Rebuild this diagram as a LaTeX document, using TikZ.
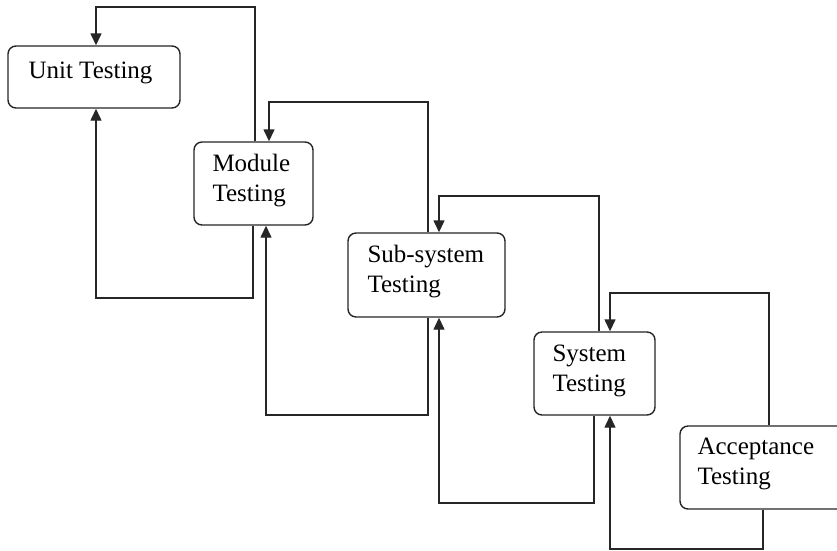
\documentclass[tikz,border=0pt]{standalone}
\usepackage{fontspec}
\setmainfont{Liberation Serif}
\usetikzlibrary{arrows.meta}
\begin{document}
\begin{tikzpicture}[x=1pt,y=1pt,
  stage/.style={draw=black!85, line width=1.4pt, rounded corners=8pt, minimum width=#1, inner sep=0pt},
  stagetext/.style={anchor=base west, inner sep=0pt, align=left, font=\fontsize{25}{30}\selectfont},
  link/.style={draw=black!85, line width=1.4pt},
  back/.style={link, -{Triangle[length=12pt,width=11pt]}}
]
\useasboundingbox (0,0) rectangle (837,-550);
\clip (0,0) rectangle (837,-550);
\fill[white] (0,0) rectangle (837,-550);

% stages
\node[stage=172pt, minimum height=62pt] (u) at (94,-77) {};
\node[stage=119pt, minimum height=83pt] (m) at (253.5,-183.5) {};
\node[stage=157pt, minimum height=84pt] (s) at (426.5,-275) {};
\node[stage=121pt, minimum height=83pt] (y) at (594.5,-373.5) {};
\node[stage=176pt, minimum height=83pt] (a) at (768,-467.5) {};

% stage labels (base anchor sits on the last line)
\node[stagetext] (ut) at ([shift={(21,-33)}]u.north west) {Unit Testing};
\node[stagetext] (mt) at ([shift={(19,-60)}]m.north west) {Module\\Testing};
\node[stagetext] (st) at ([shift={(20,-60)}]s.north west) {Sub-system\\Testing};
\node[stagetext] (yt) at ([shift={(19,-60)}]y.north west) {System\\Testing};
\node[stagetext] (at) at ([shift={(18,-59)}]a.north west) {Acceptance\\Testing};

% feedback loops over the tops
\draw[back] (m.north -| 255,0) |- (96,-7) -- (u.north -| 96,0);
\draw[back] (s.north -| 428,0) |- (269,-102) -- (m.north -| 269,0);
\draw[back] (y.north -| 599,0) |- (439,-196) -- (s.north -| 439,0);
\draw[back] (a.north -| 769,0) |- (610,-293) -- (y.north -| 610,0);

% feedback loops under the bottoms
\draw[back] (m.south -| 253,0) |- (96,-298) -- (u.south -| 96,0);
\draw[back] (s.south -| 428,0) |- (266,-415) -- (m.south -| 266,0);
\draw[back] (y.south -| 594,0) |- (439,-503) -- (s.south -| 439,0);
\draw[back] (a.south -| 763,0) |- (610,-549) -- (y.south -| 610,0);
\end{tikzpicture}
\end{document}
